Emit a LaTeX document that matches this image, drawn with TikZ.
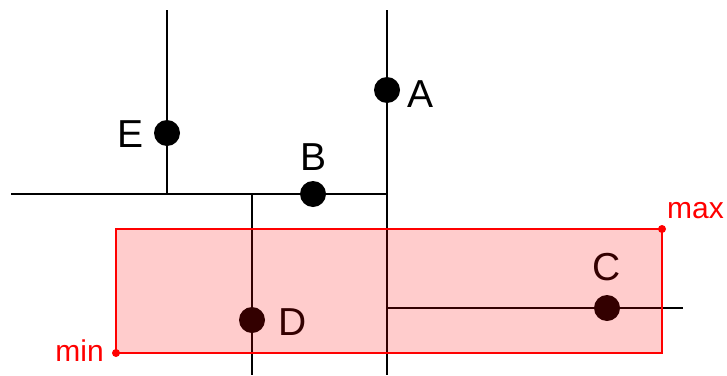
\documentclass[tikz,border=0pt]{standalone}
\usepackage{fontspec}
\setmainfont{Liberation Sans}
\begin{document}
\begin{tikzpicture}[x=1pt,y=-1pt,
  seg/.style={line width=2pt,black},
  pt/.style={circle,fill=black,minimum size=26pt,inner sep=0pt},
  lbl/.style={anchor=base west,inner sep=0pt,font=\fontsize{39}{39}\selectfont},
  rlbl/.style={inner sep=0pt,text=red,font=\fontsize{30}{30}\selectfont},
  corner/.style={circle,fill=red,minimum size=8pt,inner sep=0pt}]
\useasboundingbox (0,0) rectangle (727,375);
% split lines
\coordinate (aTop) at (387,10);
\coordinate (aBot) at (387,375);
\coordinate (eTop) at (167,10);
\coordinate (eBot) at (167,194);
\coordinate (bL) at (11,194);
\coordinate (bR) at (387,194);
\coordinate (dTop) at (252,194);
\coordinate (dBot) at (252,375);
\coordinate (cL) at (387,308);
\coordinate (cR) at (683,308);
\draw[seg] (aTop) -- (aBot);
\draw[seg] (eTop) -- (eBot);
\draw[seg] (bL) -- (bR);
\draw[seg] (dTop) -- (dBot);
\draw[seg] (cL) -- (cR);
% points
\node[pt] (A) at (387,90) {};
\node[pt] (E) at (167,133) {};
\node[pt] (B) at (313,194) {};
\node[pt] (D) at (252,320) {};
\node[pt] (C) at (607,308) {};
\node[lbl] (lA) at (407,107) {A};
\node[lbl] (lE) at (117,147) {E};
\node[lbl] (lB) at (300,170) {B};
\node[lbl] (lD) at (278,335) {D};
\node[lbl] (lC) at (592,280) {C};
% query rectangle
\fill[red,opacity=0.2] (116,229) rectangle (662,353);
\draw[red,line width=2pt] (116,229) rectangle (662,353);
\node[corner] (mn) at (116,353) {};
\node[corner] (mx) at (662,229) {};
\node[rlbl,anchor=base east] (lmin) at (104,361) {min};
\node[rlbl,anchor=base west] (lmax) at (667,218) {max};
\end{tikzpicture}
\end{document}
